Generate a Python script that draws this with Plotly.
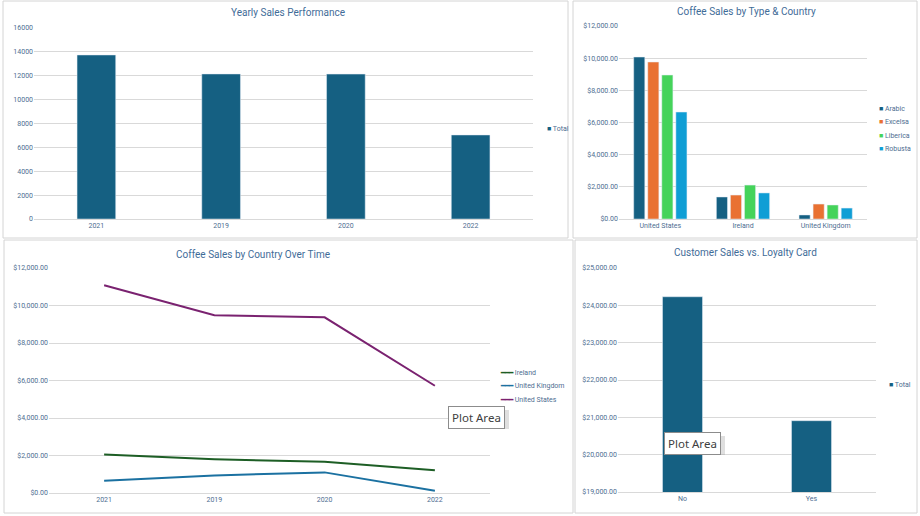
import plotly.graph_objs as go

# yearly totals
years = ["2021", "2019", "2020", "2022"]
yearly_total = [13740, 12150, 12140, 7040]

# sales by coffee type and country
countries = ["United States", "Ireland", "United Kingdom"]
coffee_types = ["Arabic", "Excelsa", "Liberica", "Robusta"]
arabic = [10070, 1370, 250]
excelsa = [9760, 1490, 930]
liberica = [8950, 2110, 870]
robusta = [6650, 1620, 680]

# country sales over time
line_years = ["2021", "2019", "2020", "2022"]
country_names = ["Ireland", "United Kingdom", "United States"]
ireland = [2060, 1800, 1670, 1210]
united_kingdom = [660, 940, 1100, 120]
united_states = [11080, 9480, 9370, 5720]

# loyalty card
loyalty = ["No", "Yes"]
loyalty_total = [24230, 20910]

W, H = 920, 516
FONT = "Roboto"
TITLE_C = "#3F6C98"
TICK_C = "#4E6E91"
GRID_C = "#D9D9D9"
BAR_C = "#156082"


def px(x):
    return x / W


def py(y):
    return 1 - y / H


fig = go.Figure()
legends = {}


def key_entry(name, color, legend_id, x, y, glyph="■"):
    # small legend key: coloured glyph followed by the series name
    fig.add_trace(go.Scatter(x=[None], y=[None], mode="markers",
                             marker=dict(size=1, color="rgba(0,0,0,0)", line=dict(width=0)),
                             name='<span style="color:%s">%s</span> %s' % (color, glyph, name),
                             legend=legend_id, hoverinfo="skip"))
    legends[legend_id] = dict(x=px(x - 40), y=py(y), xanchor="left", yanchor="middle",
                              font=dict(family=FONT, size=7, color=TICK_C),
                              bgcolor="rgba(0,0,0,0)", itemwidth=30)


# ---- panel 1
fig.add_trace(go.Bar(x=years, y=yearly_total, name="Total", marker_color=BAR_C,
                     width=0.31, xaxis="x", yaxis="y", showlegend=False))
key_entry("Total", BAR_C, "legend", 547, 128)

# ---- panel 2
type_colors = ["#156082", "#E97132", "#45D35A", "#0F9ED5"]
type_rows = [108, 121, 135, 148]
for i, (name, vals, col) in enumerate(zip(coffee_types, [arabic, excelsa, liberica, robusta], type_colors)):
    fig.add_trace(go.Bar(x=countries, y=vals, name=name, marker_color=col,
                         xaxis="x2", yaxis="y2", showlegend=False))
    key_entry(name, col, "legend%d" % (i + 2), 879, type_rows[i])

# ---- panel 3
line_colors = ["#1D5E25", "#1B71A1", "#7A2270"]
line_rows = [372, 385, 399]
for i, (name, vals, col) in enumerate(zip(country_names, [ireland, united_kingdom, united_states], line_colors)):
    fig.add_trace(go.Scatter(x=line_years, y=vals, name=name, mode="lines",
                             line=dict(color=col, width=2),
                             xaxis="x3", yaxis="y3", showlegend=False))
    key_entry(name, col, "legend%d" % (i + 6), 501, line_rows[i], glyph="<b>━━━</b>")

# ---- panel 4
fig.add_trace(go.Bar(x=loyalty, y=loyalty_total, name="Total", marker_color=BAR_C,
                     width=0.31, xaxis="x4", yaxis="y4", showlegend=False))
key_entry("Total", BAR_C, "legend9", 889, 384)

tickfont = dict(family=FONT, size=7, color=TICK_C)


def xax(x0, x1, anchor, n=None):
    d = dict(domain=[px(x0), px(x1)], anchor=anchor, type="category",
             showgrid=False, showline=True, linecolor=GRID_C, linewidth=1,
             ticks="", tickfont=tickfont, fixedrange=True)
    if n:
        d["range"] = [-0.5, n - 0.5]
    return d


def yax(y_top, y_bot, anchor, rng, dtick, money):
    d = dict(domain=[py(y_bot), py(y_top)], anchor=anchor, range=rng, dtick=dtick,
             showgrid=True, gridcolor=GRID_C, gridwidth=1, zeroline=False,
             showline=False, ticks="", tickfont=tickfont, fixedrange=True)
    if money:
        d.update(tickprefix="$", tickformat=",.2f")
    else:
        d.update(tickformat="d")
    return d


titles = [("Yearly Sales Performance", 288, 12),
          ("Coffee Sales by Type & Country", 746, 11),
          ("Coffee Sales by Country Over Time", 253, 254),
          ("Customer Sales vs. Loyalty Card", 745, 252)]
annotations = [dict(text=t, x=px(x), y=py(y), xref="paper", yref="paper",
                    xanchor="center", yanchor="middle", showarrow=False,
                    font=dict(family=FONT, size=10, color=TITLE_C))
               for t, x, y in titles]

panels = [(3, 1, 568, 238), (573, 1, 917, 238), (4, 240, 573, 513), (575, 240, 917, 513)]
shapes = [dict(type="rect", xref="paper", yref="paper", x0=px(a), y0=py(d), x1=px(c), y1=py(b),
               line=dict(color="#D4D4D4", width=1), layer="below")
          for a, b, c, d in panels]

# excel "Plot Area" hover tips visible in the screenshot (with a soft shadow)
for x, y in [(476, 417), (692, 443)]:
    annotations.append(dict(text="Plot Area", x=px(x), y=py(y), xref="paper", yref="paper",
                            xanchor="center", yanchor="middle", showarrow=False,
                            font=dict(family="Noto Sans", size=11.5, color="#404040"),
                            bgcolor="white", bordercolor="#8C8C8C", borderwidth=1,
                            borderpad=3))
    shapes.append(dict(type="rect", xref="paper", yref="paper",
                       x0=px(x - 27), x1=px(x + 33), y0=py(y + 12), y1=py(y - 7),
                       fillcolor="rgba(150,150,150,0.3)", line=dict(width=0), layer="above"))

fig.update_layout(
    width=W, height=H, margin=dict(l=0, r=0, t=0, b=0, autoexpand=False),
    paper_bgcolor="white", plot_bgcolor="white",
    barmode="group", bargap=0.32, bargroupgap=0.21,
    xaxis=xax(34, 533, "y"),
    yaxis=yax(28, 219, "x", [0, 16000], 2000, False),
    xaxis2=xax(619, 867, "y2"),
    yaxis2=yax(26, 219, "x2", [0, 12000], 2000, True),
    xaxis3=xax(49, 490, "y3", n=4),
    yaxis3=yax(268, 493, "x3", [0, 12000], 2000, True),
    xaxis4=xax(618, 876, "y4"),
    yaxis4=yax(268, 492, "x4", [19000, 25000], 1000, True),
    annotations=annotations,
    shapes=shapes,
    showlegend=True,
    **legends,
)

# page body margin off so the 920x516 figure fills the window exactly
fig.write_html("out.html", config={"displayModeBar": False},
               post_script="document.body.style.margin='0';")
